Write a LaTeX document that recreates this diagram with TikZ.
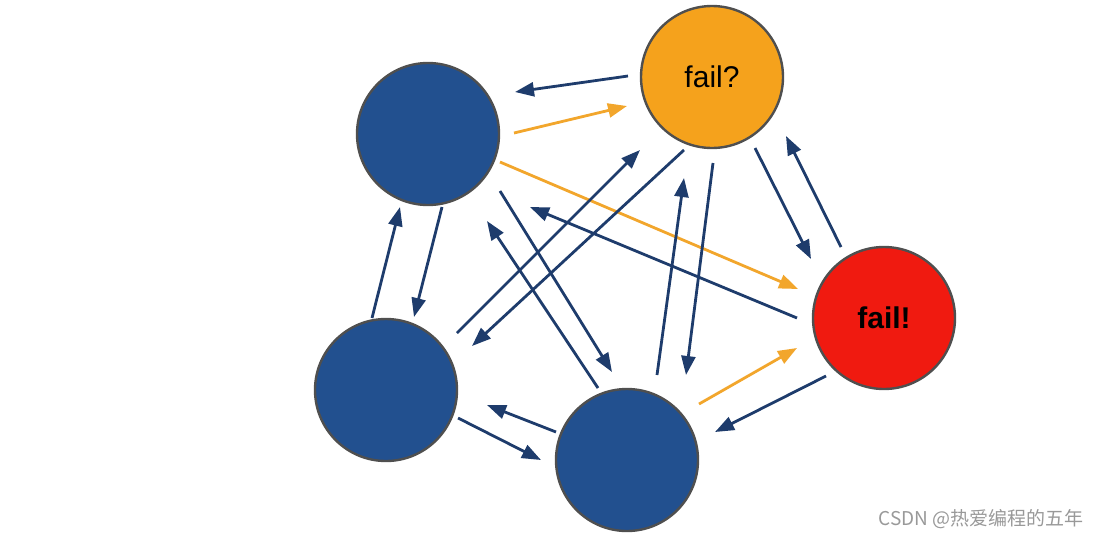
\documentclass[tikz,border=0pt]{standalone}
\usepackage{fontspec}
\setmainfont{Liberation Sans}
\newfontfamily\cjk{Noto Sans CJK SC}
\usetikzlibrary{arrows.meta,calc}
\definecolor{nodeblue}{HTML}{22508F}
\definecolor{nodeorange}{HTML}{F5A21C}
\definecolor{nodered}{HTML}{F01A10}
\definecolor{arrblue}{HTML}{1E3C6C}
\definecolor{arrorange}{HTML}{F2A62C}
\definecolor{rimgray}{HTML}{4F4F4F}
\tikzset{
  ball/.style={circle,draw=rimgray,line width=2.4pt,minimum size=142pt,inner sep=0pt,font=\fontsize{30}{32}\selectfont},
  barrow/.style={draw=arrblue,line width=2.8pt,-{Triangle[length=19pt,width=14pt]}},
  oarrow/.style={draw=arrorange,line width=2.8pt,-{Triangle[length=19pt,width=14pt]}},
}
\begin{document}
\begin{tikzpicture}[x=1pt,y=-1pt]
\useasboundingbox (0,0) rectangle (1100,539);
\node[ball,fill=nodeblue] (A) at (428,134) {};
\node[ball,fill=nodeorange] (B) at (712,77) {fail?};
\node[ball,fill=nodered] (C) at (884,318) {\bfseries fail!};
\node[ball,fill=nodeblue] (D) at (386,390) {};
\node[ball,fill=nodeblue] (E) at (627,460) {};
% arrows
\draw[barrow] ($(B)+(-84,-1)$) -- ($(A)+(87,-42)$);
\draw[oarrow] ($(A)+(86,-1)$) -- ($(B)+(-85,29)$);
\draw[oarrow] ($(A)+(72,28)$) -- ($(C)+(-86,-29)$);
\draw[barrow] ($(D)+(71,-57)$) -- ($(B)+(-72,73)$);
\draw[barrow] ($(B)+(-28,73)$) -- ($(D)+(86,-44)$);
\draw[barrow] ($(A)+(72,57)$) -- ($(E)+(-15,-88)$);
\draw[barrow] ($(E)+(-29,-72)$) -- ($(A)+(59,87)$);
\draw[barrow] ($(C)+(-87,0)$) -- ($(A)+(102,73)$);
\draw[barrow] ($(A)+(14,73)$) -- ($(D)+(28,-73)$);
\draw[barrow] ($(D)+(-14,-72)$) -- ($(A)+(-28,73)$);
\draw[barrow] ($(E)+(30,-85)$) -- ($(B)+(-28,101)$);
\draw[barrow] ($(B)+(1,86)$) -- ($(E)+(59,-85)$);
\draw[barrow] ($(B)+(43,71)$) -- ($(C)+(-73,-59)$);
\draw[barrow] ($(C)+(-43,-71)$) -- ($(B)+(74,59)$);
\draw[oarrow] ($(E)+(72,-56)$) -- ($(C)+(-87,30)$);
\draw[barrow] ($(C)+(-58,58)$) -- ($(E)+(88,-28)$);
\draw[barrow] ($(E)+(-71,-28)$) -- ($(D)+(101,15)$);
\draw[barrow] ($(D)+(72,28)$) -- ($(E)+(-86,0)$);
\node[anchor=east,text=black!40,font=\cjk\fontsize{19}{21}\selectfont,inner sep=0pt] (wm) at (1084,519) {CSDN @热爱编程的五年};
\end{tikzpicture}
\end{document}
